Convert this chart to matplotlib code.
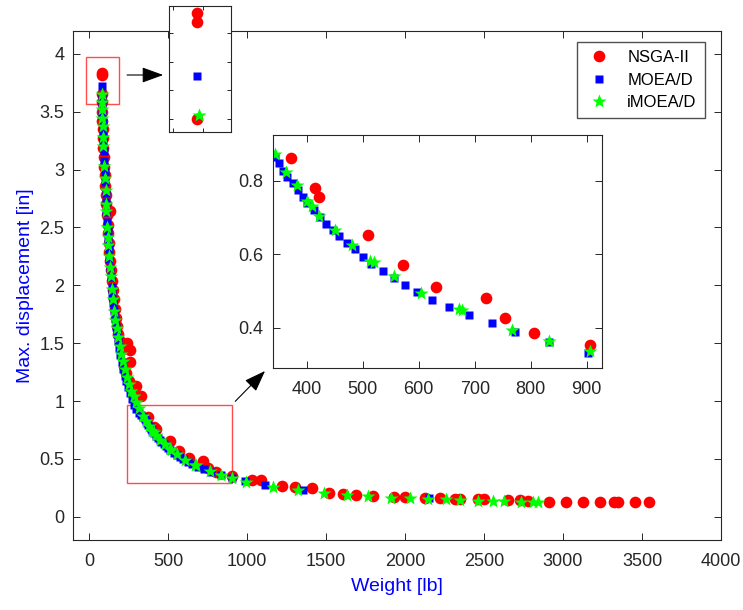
"""Pareto fronts of three optimisers: weight vs. max. displacement, with two zoom insets."""

import matplotlib
matplotlib.use("Agg")
import matplotlib.pyplot as plt
from matplotlib.patches import Rectangle, FancyArrowPatch

plt.rcParams["font.family"] = ["Liberation Sans", "DejaVu Sans"]

# NSGA-II front: weight [lb], max. displacement [in]
nsga_w = [79, 79, 79, 80, 82, 84, 86, 88, 90, 93, 96, 99, 102, 105, 109, 130, 113, 117,
          120, 124, 129, 133, 138, 144, 150, 156, 163, 170, 178, 186, 196, 208, 243, 258,
          258, 222, 236, 250, 272, 300, 327,
          372, 414, 422, 509, 572, 630, 720, 755, 806, 906,
          1034, 1091, 1218, 1302, 1414, 1519, 1608, 1688, 1797, 1929, 1998, 2125, 2224,
          2315, 2346, 2462, 2498, 2652, 2726, 2780, 2910, 3020, 3125, 3235, 3320, 3350,
          3455, 3545]
nsga_d = [3.835, 3.82, 3.65, 3.58, 3.50, 3.42, 3.35, 3.27, 3.19, 3.11, 3.02, 2.95, 2.86,
          2.78, 2.70, 2.64, 2.61, 2.52, 2.45, 2.37, 2.29, 2.21, 2.13, 2.04, 1.96, 1.88,
          1.80, 1.72, 1.65, 1.58, 1.52, 1.45, 1.50, 1.44, 1.34, 1.30, 1.24, 1.17, 1.10,
          1.13, 1.04,
          0.862, 0.780, 0.755, 0.653, 0.570, 0.510, 0.481, 0.426, 0.386, 0.354,
          0.320, 0.320, 0.268, 0.257, 0.248, 0.205, 0.199, 0.190, 0.176, 0.170, 0.170,
          0.161, 0.161, 0.156, 0.156, 0.153, 0.153, 0.147, 0.147, 0.140, 0.132, 0.132,
          0.130, 0.130, 0.128, 0.128, 0.128, 0.128]

# MOEA/D front
moead_w = [79, 80, 81, 83, 85, 87, 89, 92, 95, 98, 101, 104, 107, 110, 113, 117, 120, 124,
           128, 132, 137, 142, 147, 152, 157, 163, 169, 176, 183, 190, 198, 206, 215, 225,
           235, 246, 258, 271, 285, 300, 316, 330,
           343, 351, 358, 365, 375, 384, 393, 401, 412, 424, 435, 446, 458, 471, 486, 501,
           514, 536, 556, 575, 597, 624, 654, 689, 730, 772, 833, 902,
           985, 1112, 1354, 2150]
moead_d = [3.725, 3.62, 3.55, 3.47, 3.40, 3.33, 3.25, 3.16, 3.07, 2.98, 2.89, 2.80, 2.72,
           2.63, 2.55, 2.47, 2.39, 2.31, 2.23, 2.15, 2.07, 1.99, 1.92, 1.85, 1.78, 1.71,
           1.64, 1.58, 1.52, 1.46, 1.40, 1.34, 1.28, 1.22, 1.17, 1.12, 1.07, 1.02, 0.97,
           0.93, 0.90, 0.88,
           0.866, 0.848, 0.828, 0.812, 0.794, 0.776, 0.757, 0.739, 0.721, 0.701, 0.682,
           0.667, 0.649, 0.631, 0.614, 0.594, 0.574, 0.554, 0.537, 0.517, 0.498, 0.477,
           0.456, 0.434, 0.413, 0.388, 0.362, 0.333,
           0.311, 0.277, 0.233, 0.165]

# iMOEA/D front
imoead_w = [79.2, 80, 82, 84, 86, 89, 91, 96, 100, 104, 108, 110, 115, 118, 121, 126, 130,
            136, 143, 150, 158, 166, 174, 184, 193, 203, 214, 226, 238, 252, 266, 282,
            300, 318,
            343, 363, 382, 400, 409, 422, 450, 480, 512, 520, 556, 604, 672, 677, 767,
            833, 906,
            996, 1165, 1323, 1485, 1633, 1766, 1914, 2030, 2146, 2258, 2346, 2462, 2557,
            2625, 2737, 2810, 2842]
imoead_d = [3.657, 3.58, 3.52, 3.45, 3.38, 3.28, 3.20, 3.03, 2.93, 2.82, 2.70, 2.64, 2.50,
            2.42, 2.35, 2.25, 2.16, 2.08, 1.97, 1.88, 1.78, 1.70, 1.63, 1.55, 1.48, 1.41,
            1.35, 1.28, 1.21, 1.15, 1.09, 1.04, 0.99, 0.94,
            0.873, 0.825, 0.789, 0.746, 0.732, 0.705, 0.667, 0.626, 0.583, 0.579, 0.540,
            0.495, 0.451, 0.448, 0.395, 0.364, 0.338,
            0.305, 0.262, 0.233, 0.205, 0.190, 0.176, 0.167, 0.161, 0.158, 0.153, 0.147,
            0.141, 0.141, 0.141, 0.132, 0.132, 0.132]

labels = ["NSGA-II", "MOEA/D", "iMOEA/D"]
x_ticks = [0, 500, 1000, 1500, 2000, 2500, 3000, 3500, 4000]
y_ticks = [0, 0.5, 1, 1.5, 2, 2.5, 3, 3.5, 4]
y_ticklabels = ["0", "0.5", "1", "1.5", "2", "2.5", "3", "3.5", "4"]
zoom_x_ticks = [400, 500, 600, 700, 800, 900]
zoom_y_ticks = [0.4, 0.6, 0.8]
top_x_ticks = [75, 80]
top_y_ticks = [3.65, 3.70, 3.75, 3.80]

W, H = 743, 610
DARK = "#262626"


def fig_rect(x0, y0, x1, y1):
    """pixel box (top-left origin) -> figure fraction rect"""
    return [x0 / W, 1 - y1 / H, (x1 - x0) / W, (y1 - y0) / H]


def fig_pt(x, y):
    return (x / W, 1 - y / H)


def draw_fronts(ax):
    ax.plot(nsga_w, nsga_d, "o", color=(1, 0, 0), ms=8.4, mec="none", label=labels[0])
    ax.plot(moead_w, moead_d, "s", color=(0, 0, 1), ms=5.5, mec="none", label=labels[1])
    ax.plot(imoead_w, imoead_d, "*", color=(0, 1, 0), ms=10.5, mec="none", label=labels[2])


def style(ax, fs=13):
    ax.tick_params(direction="in", length=5, width=0.7, colors=DARK, labelsize=fs,
                   top=True, right=True, labelcolor=DARK)
    ax.tick_params(axis="x", pad=9)
    ax.tick_params(axis="y", pad=6.5)
    for s in ax.spines.values():
        s.set_color(DARK)
        s.set_linewidth(0.8)


fig = plt.figure(figsize=(W / 100, H / 100), dpi=100)

# main axes
ax = fig.add_axes(fig_rect(73.3, 30.7, 721, 540))
draw_fronts(ax)
ax.set_xlim(-100, 4000)
ax.set_ylim(-0.2, 4.2)
ax.set_xticks(x_ticks)
ax.set_yticks(y_ticks)
ax.set_yticklabels(y_ticklabels)
style(ax)
ax.set_xlabel("Weight [lb]", color=(0, 0, 1), fontsize=14, labelpad=6)
ax.set_ylabel("Max. displacement [in]", color=(0, 0, 1), fontsize=14, labelpad=4)

# zoom rectangles on the main axes
ax.add_patch(Rectangle((-21, 3.57), 211, 0.40, fill=False, ec="#ff4d4d", lw=1))
ax.add_patch(Rectangle((243, 0.29), 662, 0.675, fill=False, ec="#ff4d4d", lw=1))

ax.legend(loc="upper right", bbox_to_anchor=fig_pt(705, 41.7), bbox_transform=fig.transFigure,
          borderaxespad=0, fontsize=12, frameon=True, fancybox=False, edgecolor=DARK,
          labelspacing=0.45, handletextpad=0.9, borderpad=0.5, handlelength=1.6,
          numpoints=1)

# big inset
axz = fig.add_axes(fig_rect(272.7, 135, 602.3, 368.3))
draw_fronts(axz)
axz.set_xlim(339, 928)
axz.set_ylim(0.29, 0.925)
axz.set_xticks(zoom_x_ticks)
axz.set_yticks(zoom_y_ticks)
style(axz)

# top inset
axt = fig.add_axes(fig_rect(169.3, 6, 231, 131.7))
draw_fronts(axt)
axt.set_xlim(74.33, 84.6)
axt.set_ylim(3.628, 3.8476)
axt.set_xticks(top_x_ticks)
axt.set_yticks(top_y_ticks)
style(axt)
axt.tick_params(labelbottom=False, labelleft=False, length=3)

# arrows
for p0, p1 in [((124.3, 75), (166, 75)), ((233.3, 403.3), (267, 369))]:
    fig.add_artist(FancyArrowPatch(fig_pt(*p0), fig_pt(*p1), transform=fig.transFigure,
                                   arrowstyle="-|>,head_length=1.1,head_width=0.4",
                                   mutation_scale=12, color="k", lw=0.8))

fig.savefig("out.png", dpi=100)
